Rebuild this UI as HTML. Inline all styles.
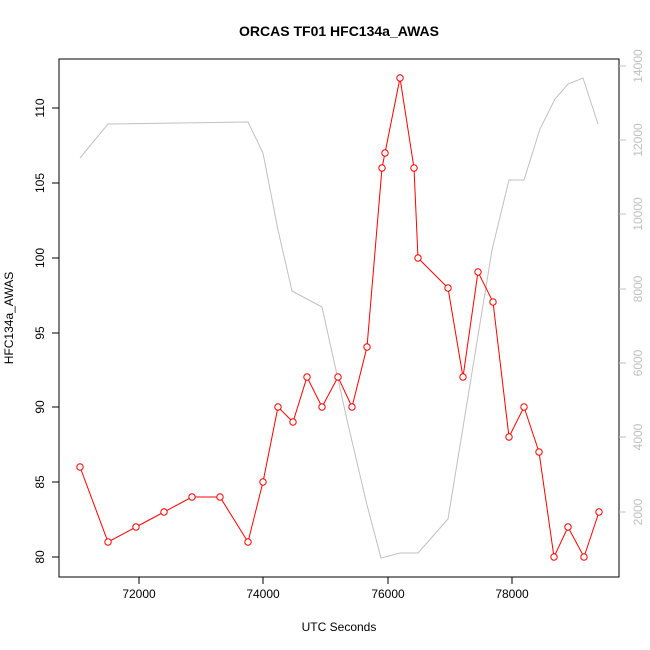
<!DOCTYPE html>
<html><head><style>body{margin:0;background:#fff}svg{display:block}</style></head><body>
<svg width="650" height="650" xmlns="http://www.w3.org/2000/svg" font-family="Liberation Sans, sans-serif">
<rect width="650" height="650" fill="#fff"/>
<text x="339" y="36" text-anchor="middle" font-size="14" font-weight="bold">ORCAS TF01 HFC134a_AWAS</text>
<rect x="59" y="59" width="560" height="518" fill="none" stroke="#000"/>
<polyline fill="none" stroke="#c0c0c0" points="80,158 108,124 248,122 263,153 278,230 292,291 322,307 347,420 367,505 381,558 400,553 418,553 448,519 492,250 509,180 524,180 540,129 555,99 568,84 583,78 598,124"/>
<polyline fill="none" stroke="#ff0000" points="80,467 108,542 136,527 164,512 192,497 220,497 248,542 263,482 278,407 293,422 307,377 322,407 338,377 352,407 367,347 382,168 385,153 400,78 414,168 418,258 448,288 463,377 478,272 493,302 509,437 524,407 539,452 554,557 568,527 584,557 599,512"/>
<g fill="#fff" stroke="#ff0000">
<circle cx="80" cy="467" r="3.2"/><circle cx="108" cy="542" r="3.2"/><circle cx="136" cy="527" r="3.2"/><circle cx="164" cy="512" r="3.2"/><circle cx="192" cy="497" r="3.2"/><circle cx="220" cy="497" r="3.2"/><circle cx="248" cy="542" r="3.2"/><circle cx="263" cy="482" r="3.2"/><circle cx="278" cy="407" r="3.2"/><circle cx="293" cy="422" r="3.2"/><circle cx="307" cy="377" r="3.2"/><circle cx="322" cy="407" r="3.2"/><circle cx="338" cy="377" r="3.2"/><circle cx="352" cy="407" r="3.2"/><circle cx="367" cy="347" r="3.2"/><circle cx="382" cy="168" r="3.2"/><circle cx="385" cy="153" r="3.2"/><circle cx="400" cy="78" r="3.2"/><circle cx="414" cy="168" r="3.2"/><circle cx="418" cy="258" r="3.2"/><circle cx="448" cy="288" r="3.2"/><circle cx="463" cy="377" r="3.2"/><circle cx="478" cy="272" r="3.2"/><circle cx="493" cy="302" r="3.2"/><circle cx="509" cy="437" r="3.2"/><circle cx="524" cy="407" r="3.2"/><circle cx="539" cy="452" r="3.2"/><circle cx="554" cy="557" r="3.2"/><circle cx="568" cy="527" r="3.2"/><circle cx="584" cy="557" r="3.2"/><circle cx="599" cy="512" r="3.2"/>
</g>
<g stroke="#000">
<line x1="59" x2="52" y1="557" y2="557"/><line x1="59" x2="52" y1="482" y2="482"/><line x1="59" x2="52" y1="407" y2="407"/><line x1="59" x2="52" y1="333" y2="333"/><line x1="59" x2="52" y1="258" y2="258"/><line x1="59" x2="52" y1="183" y2="183"/><line x1="59" x2="52" y1="108" y2="108"/>
<line y1="577" y2="584" x1="139" x2="139"/><line y1="577" y2="584" x1="263" x2="263"/><line y1="577" y2="584" x1="388" x2="388"/><line y1="577" y2="584" x1="512" x2="512"/>
</g>
<g font-size="12" text-anchor="middle">
<text transform="translate(44,557) rotate(-90)">80</text><text transform="translate(44,482) rotate(-90)">85</text><text transform="translate(44,407) rotate(-90)">90</text><text transform="translate(44,333) rotate(-90)">95</text><text transform="translate(44,258) rotate(-90)">100</text><text transform="translate(44,183) rotate(-90)">105</text><text transform="translate(44,108) rotate(-90)">110</text>
<text x="139" y="598">72000</text><text x="263" y="598">74000</text><text x="388" y="598">76000</text><text x="512" y="598">78000</text>
<text x="339" y="631">UTC Seconds</text>
<text transform="translate(13,318) rotate(-90)">HFC134a_AWAS</text>
</g>
<g stroke="#c0c0c0">
<line x1="619" x2="626" y1="512" y2="512"/><line x1="619" x2="626" y1="437" y2="437"/><line x1="619" x2="626" y1="363" y2="363"/><line x1="619" x2="626" y1="289" y2="289"/><line x1="619" x2="626" y1="214" y2="214"/><line x1="619" x2="626" y1="140" y2="140"/><line x1="619" x2="626" y1="66" y2="66"/>
</g>
<g font-size="12" text-anchor="middle" fill="#c0c0c0">
<text transform="translate(642,512) rotate(-90)">2000</text><text transform="translate(642,437) rotate(-90)">4000</text><text transform="translate(642,363) rotate(-90)">6000</text><text transform="translate(642,289) rotate(-90)">8000</text><text transform="translate(642,214) rotate(-90)">10000</text><text transform="translate(642,140) rotate(-90)">12000</text><text transform="translate(642,66) rotate(-90)">14000</text>
</g>
</svg>
</body></html>
